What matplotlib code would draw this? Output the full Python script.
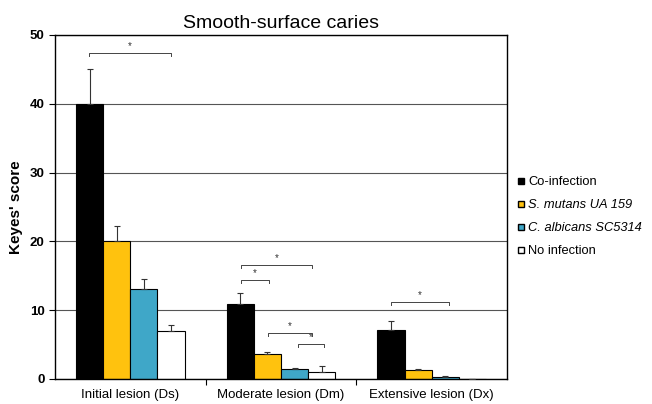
import matplotlib
matplotlib.use("Agg")
import matplotlib.pyplot as plt
import numpy as np
from matplotlib.lines import Line2D

plt.rcParams['font.family'] = ['Liberation Sans', 'DejaVu Sans']

categories = ["Initial lesion (Ds)", "Moderate lesion (Dm)", "Extensive lesion (Dx)"]
series = ["Co-infection", "S. mutans UA 159", "C. albicans SC5314", "No infection"]
values = {
    "Co-infection":       [40.0, 10.9, 7.1],
    "S. mutans UA 159":   [20.0, 3.6, 1.3],
    "C. albicans SC5314": [13.1, 1.4, 0.3],
    "No infection":       [7.0, 1.0, 0.0],
}
errors = {
    "Co-infection":       [5.0, 1.6, 1.3],
    "S. mutans UA 159":   [2.3, 0.3, 0.2],
    "C. albicans SC5314": [1.4, 0.2, 0.1],
    "No infection":       [0.8, 0.9, 0.0],
}
colors = ["#000000", "#FFC20E", "#3FA7C8", "#FFFFFF"]
# significance brackets: (x1, x2, y)
brackets = [(-0.273, 0.267, 47.4), (0.733, 0.92, 14.4), (0.733, 1.207, 16.6),
            (0.913, 1.207, 6.7), (1.113, 1.287, 5.1), (1.733, 2.113, 11.2)]

fig = plt.figure(figsize=(6.52, 4.04), dpi=100)
ax = fig.add_axes([0.0844, 0.0619, 0.6932, 0.8515])

x = np.arange(len(categories))
w = 0.18
for i, s in enumerate(series):
    xpos = x + (i - 1.5) * w
    ax.bar(xpos, values[s], w, color=colors[i], edgecolor="black", linewidth=0.8, zorder=2)
    ax.errorbar(xpos, values[s], yerr=[np.zeros(3), errors[s]], fmt="none",
                ecolor="#333333", elinewidth=0.8, capsize=2.5, capthick=0.8, zorder=3)

for (x1, x2, y) in brackets:
    ax.plot([x1, x1, x2, x2], [y - 0.4, y, y, y - 0.4], color="#444444", lw=0.7, zorder=4)
    ax.text((x1 + x2) / 2, y + 0.2, "*", ha="center", va="bottom", fontsize=7, color="#333333")

ax.set_xlim(-0.5, 2.5)
ax.set_ylim(0, 50)
ax.set_yticks([0, 10, 20, 30, 40, 50])
ax.yaxis.grid(True, color="#555555", lw=0.8, zorder=0)
ax.set_axisbelow(True)
ax.set_xticks([0.5, 1.5])
ax.set_xticklabels([])
ax.set_xticks(x, minor=True)
ax.set_xticklabels(categories, minor=True, fontsize=9.5)
ax.tick_params(axis="x", which="minor", length=0, pad=7)
ax.tick_params(axis="x", which="major", length=4, direction="out")
ax.tick_params(axis="y", length=4, direction="out", labelsize=9.5)
for lab in ax.get_yticklabels():
    lab.set_fontweight("bold")
ax.set_ylabel("Keyes' score", fontsize=11, fontweight="bold", labelpad=5)
ax.set_title("Smooth-surface caries", fontsize=14, pad=5)
for sp in ax.spines.values():
    sp.set_linewidth(1.0)

handles = [Line2D([], [], marker="s", linestyle="none", markersize=5,
                  markerfacecolor=colors[i], markeredgecolor="black", markeredgewidth=1.0)
           for i in range(4)]
leg = fig.legend(handles, series, loc="upper left", bbox_to_anchor=(0.783, 0.58),
                 frameon=False, fontsize=9.3, handlelength=0.55, handletextpad=0.3,
                 labelspacing=0.85, borderpad=0)
for t in leg.get_texts()[1:3]:
    t.set_fontstyle("italic")

fig.savefig("out.png", dpi=100)
